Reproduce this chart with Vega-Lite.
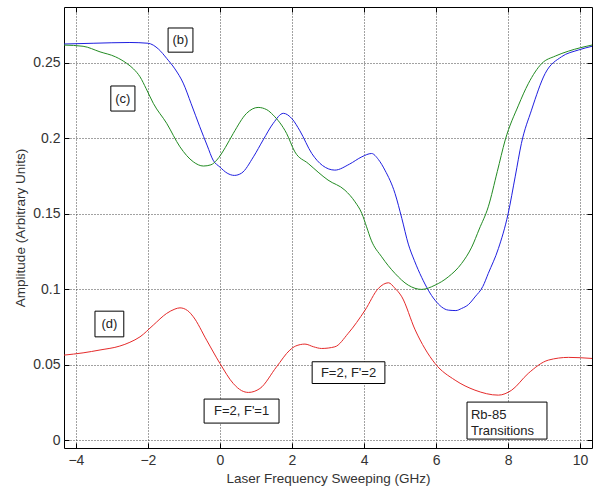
{
  "$schema": "https://vega.github.io/schema/vega-lite/v6.json",
  "width": 528,
  "height": 441,
  "autosize": {"type": "none"},
  "padding": {"left": 64, "top": 7, "right": 3, "bottom": 39},
  "background": "white",
  "view": {"stroke": "#000", "strokeWidth": 1},
  "config": {
    "font": "Liberation Sans",
    "axis": {
      "labelFont": "Liberation Sans",
      "titleFont": "Liberation Sans",
      "labelFontSize": 14,
      "titleFontSize": 13.5,
      "titleFontWeight": "normal",
      "labelColor": "#333",
      "titleColor": "#333",
      "domain": false,
      "tickColor": "#000",
      "tickSize": -5,
      "grid": true,
      "gridColor": "#444",
      "gridDash": [1, 2],
      "gridOpacity": 1,
      "gridWidth": 1
    }
  },
  "resolve": {"axis": {"x": "independent", "y": "independent"}},
  "datasets": {
    "curves": [
      {"series": "b", "x": -4.33, "y": 0.2625}, {"series": "b", "x": -3.5, "y": 0.263}, {"series": "b", "x": -2.5, "y": 0.2635}, {"series": "b", "x": -2.0, "y": 0.263}, {"series": "b", "x": -1.7, "y": 0.259}, {"series": "b", "x": -1.48, "y": 0.253}, {"series": "b", "x": -1.25, "y": 0.246}, {"series": "b", "x": -1.02, "y": 0.2366}, {"series": "b", "x": -0.8, "y": 0.223}, {"series": "b", "x": -0.56, "y": 0.2077}, {"series": "b", "x": -0.35, "y": 0.195}, {"series": "b", "x": -0.19, "y": 0.1856}, {"series": "b", "x": 0.0, "y": 0.181}, {"series": "b", "x": 0.2, "y": 0.177}, {"series": "b", "x": 0.4, "y": 0.1755}, {"series": "b", "x": 0.6, "y": 0.177}, {"series": "b", "x": 0.93, "y": 0.1878}, {"series": "b", "x": 1.2, "y": 0.199}, {"series": "b", "x": 1.48, "y": 0.21}, {"series": "b", "x": 1.76, "y": 0.2166}, {"series": "b", "x": 2.0, "y": 0.213}, {"series": "b", "x": 2.22, "y": 0.205}, {"series": "b", "x": 2.55, "y": 0.19}, {"series": "b", "x": 2.85, "y": 0.182}, {"series": "b", "x": 3.19, "y": 0.179}, {"series": "b", "x": 3.6, "y": 0.183}, {"series": "b", "x": 3.94, "y": 0.1878}, {"series": "b", "x": 4.21, "y": 0.19}, {"series": "b", "x": 4.4, "y": 0.186}, {"series": "b", "x": 4.58, "y": 0.179}, {"series": "b", "x": 4.86, "y": 0.1636}, {"series": "b", "x": 5.05, "y": 0.147}, {"series": "b", "x": 5.23, "y": 0.13}, {"series": "b", "x": 5.4, "y": 0.119}, {"series": "b", "x": 5.6, "y": 0.108}, {"series": "b", "x": 5.97, "y": 0.0929}, {"series": "b", "x": 6.34, "y": 0.0863}, {"series": "b", "x": 6.55, "y": 0.086}, {"series": "b", "x": 6.71, "y": 0.0874}, {"series": "b", "x": 6.9, "y": 0.09}, {"series": "b", "x": 7.08, "y": 0.095}, {"series": "b", "x": 7.3, "y": 0.102}, {"series": "b", "x": 7.45, "y": 0.1106}, {"series": "b", "x": 7.73, "y": 0.127}, {"series": "b", "x": 8.0, "y": 0.15}, {"series": "b", "x": 8.2, "y": 0.175}, {"series": "b", "x": 8.37, "y": 0.1967}, {"series": "b", "x": 8.65, "y": 0.2187}, {"series": "b", "x": 9.03, "y": 0.243}, {"series": "b", "x": 9.48, "y": 0.254}, {"series": "b", "x": 9.95, "y": 0.2585}, {"series": "b", "x": 10.33, "y": 0.261},
      {"series": "c", "x": -4.33, "y": 0.2618}, {"series": "c", "x": -3.8, "y": 0.261}, {"series": "c", "x": -3.33, "y": 0.2573}, {"series": "c", "x": -2.9, "y": 0.254}, {"series": "c", "x": -2.59, "y": 0.2497}, {"series": "c", "x": -2.4, "y": 0.246}, {"series": "c", "x": -2.22, "y": 0.2408}, {"series": "c", "x": -2.05, "y": 0.233}, {"series": "c", "x": -1.85, "y": 0.2232}, {"series": "c", "x": -1.48, "y": 0.21}, {"series": "c", "x": -1.11, "y": 0.1944}, {"series": "c", "x": -0.74, "y": 0.1845}, {"series": "c", "x": -0.46, "y": 0.1817}, {"series": "c", "x": -0.25, "y": 0.1825}, {"series": "c", "x": -0.09, "y": 0.1856}, {"series": "c", "x": 0.15, "y": 0.194}, {"series": "c", "x": 0.37, "y": 0.2033}, {"series": "c", "x": 0.74, "y": 0.2166}, {"series": "c", "x": 1.06, "y": 0.2205}, {"series": "c", "x": 1.3, "y": 0.219}, {"series": "c", "x": 1.48, "y": 0.2154}, {"series": "c", "x": 1.85, "y": 0.2033}, {"series": "c", "x": 2.08, "y": 0.1911}, {"series": "c", "x": 2.45, "y": 0.1834}, {"series": "c", "x": 3.0, "y": 0.1724}, {"series": "c", "x": 3.47, "y": 0.1657}, {"series": "c", "x": 3.75, "y": 0.158}, {"series": "c", "x": 3.94, "y": 0.1503}, {"series": "c", "x": 4.07, "y": 0.1415}, {"series": "c", "x": 4.2, "y": 0.1326}, {"series": "c", "x": 4.49, "y": 0.1216}, {"series": "c", "x": 4.86, "y": 0.1106}, {"series": "c", "x": 5.23, "y": 0.1028}, {"series": "c", "x": 5.6, "y": 0.1}, {"series": "c", "x": 5.97, "y": 0.1028}, {"series": "c", "x": 6.34, "y": 0.1083}, {"series": "c", "x": 6.71, "y": 0.1172}, {"series": "c", "x": 6.99, "y": 0.128}, {"series": "c", "x": 7.2, "y": 0.14}, {"series": "c", "x": 7.45, "y": 0.1547}, {"series": "c", "x": 7.7, "y": 0.178}, {"series": "c", "x": 7.92, "y": 0.1989}, {"series": "c", "x": 8.29, "y": 0.222}, {"series": "c", "x": 8.56, "y": 0.2362}, {"series": "c", "x": 8.94, "y": 0.2497}, {"series": "c", "x": 9.31, "y": 0.2545}, {"series": "c", "x": 9.68, "y": 0.2578}, {"series": "c", "x": 10.33, "y": 0.2618},
      {"series": "d", "x": -4.33, "y": 0.0565}, {"series": "d", "x": -3.8, "y": 0.058}, {"series": "d", "x": -3.33, "y": 0.0599}, {"series": "d", "x": -2.78, "y": 0.0625}, {"series": "d", "x": -2.5, "y": 0.065}, {"series": "d", "x": -2.22, "y": 0.0686}, {"series": "d", "x": -1.85, "y": 0.0764}, {"series": "d", "x": -1.48, "y": 0.0841}, {"series": "d", "x": -1.25, "y": 0.087}, {"series": "d", "x": -1.11, "y": 0.0878}, {"series": "d", "x": -0.9, "y": 0.086}, {"series": "d", "x": -0.74, "y": 0.0819}, {"series": "d", "x": -0.37, "y": 0.0664}, {"series": "d", "x": 0.0, "y": 0.051}, {"series": "d", "x": 0.37, "y": 0.0377}, {"series": "d", "x": 0.6, "y": 0.033}, {"series": "d", "x": 0.79, "y": 0.0318}, {"series": "d", "x": 1.11, "y": 0.0344}, {"series": "d", "x": 1.57, "y": 0.0487}, {"series": "d", "x": 1.94, "y": 0.0598}, {"series": "d", "x": 2.1, "y": 0.0625}, {"series": "d", "x": 2.36, "y": 0.0638}, {"series": "d", "x": 2.6, "y": 0.062}, {"series": "d", "x": 2.82, "y": 0.0609}, {"series": "d", "x": 3.19, "y": 0.062}, {"series": "d", "x": 3.56, "y": 0.0709}, {"series": "d", "x": 4.03, "y": 0.0863}, {"series": "d", "x": 4.4, "y": 0.1007}, {"series": "d", "x": 4.68, "y": 0.1044}, {"series": "d", "x": 4.85, "y": 0.101}, {"series": "d", "x": 5.05, "y": 0.0951}, {"series": "d", "x": 5.42, "y": 0.0732}, {"series": "d", "x": 5.97, "y": 0.051}, {"series": "d", "x": 6.53, "y": 0.0399}, {"series": "d", "x": 7.08, "y": 0.0333}, {"series": "d", "x": 7.73, "y": 0.03}, {"series": "d", "x": 8.1, "y": 0.0333}, {"series": "d", "x": 8.56, "y": 0.0444}, {"series": "d", "x": 9.12, "y": 0.0532}, {"series": "d", "x": 9.68, "y": 0.055}, {"series": "d", "x": 10.33, "y": 0.0543}
    ],
    "notes": [
      {"label": "(b)", "x0": -1.44, "x1": -0.75, "y0": 0.2571, "y1": 0.2731, "tx": -1.1, "ty": 0.2651, "align": "center"},
      {"label": "(c)", "x0": -3.03, "x1": -2.36, "y0": 0.2181, "y1": 0.2347, "tx": -2.7, "ty": 0.2264, "align": "center"},
      {"label": "(d)", "x0": -3.47, "x1": -2.67, "y0": 0.0686, "y1": 0.0856, "tx": -3.07, "ty": 0.0771, "align": "center"},
      {"label": "F=2, F'=1", "x0": -0.44, "x1": 1.64, "y0": 0.0115, "y1": 0.0274, "tx": 0.6, "ty": 0.0195, "align": "center"},
      {"label": "F=2, F'=2", "x0": 2.56, "x1": 4.58, "y0": 0.0377, "y1": 0.0521, "tx": 3.57, "ty": 0.0449, "align": "center"},
      {"label": "Rb-85\nTransitions", "x0": 6.86, "x1": 9.08, "y0": 0.0009, "y1": 0.0254, "tx": 6.97, "ty": 0.0168, "align": "left"}
    ]
  },
  "layer": [
    {
      "data": {"name": "curves"},
      "mark": {"type": "line", "strokeWidth": 1, "interpolate": "monotone"},
      "encoding": {
        "x": {"field": "x", "type": "quantitative", "scale": {"domain": [-4.33, 10.33], "nice": false, "zero": false}, "axis": {"title": "Laser Frequency Sweeping (GHz)", "values": [-4, -2, 0, 2, 4, 6, 8, 10], "labelPadding": 10, "titlePadding": 4}},
        "y": {"field": "y", "type": "quantitative", "scale": {"domain": [-0.005, 0.287], "nice": false, "zero": false}, "axis": {"title": "Amplitude (Arbitrary Units)", "values": [0, 0.05, 0.1, 0.15, 0.2, 0.25], "labelExpr": "datum.value == 0 ? '0' : format(datum.value, '~g')", "labelPadding": 9, "titlePadding": 5}},
        "color": {"field": "series", "type": "nominal", "scale": {"domain": ["b", "c", "d"], "range": ["#1f1fe0", "#228b22", "#e52a2a"]}, "legend": null},
        "detail": {"field": "series"}
      }
    },
    {
      "data": {"name": "curves"},
      "mark": {"type": "point", "opacity": 0},
      "encoding": {
        "x": {"field": "x", "type": "quantitative", "axis": {"orient": "top", "values": [-4, -2, 0, 2, 4, 6, 8, 10], "labels": false, "grid": false, "title": null}},
        "y": {"field": "y", "type": "quantitative", "axis": {"orient": "right", "values": [0, 0.05, 0.1, 0.15, 0.2, 0.25], "labels": false, "grid": false, "title": null}}
      }
    },
    {
      "data": {"name": "notes"},
      "mark": {"type": "rect", "fill": "white", "stroke": "#000", "strokeWidth": 1},
      "encoding": {
        "x": {"field": "x0", "type": "quantitative", "axis": null},
        "x2": {"field": "x1"},
        "y": {"field": "y0", "type": "quantitative", "axis": null},
        "y2": {"field": "y1"}
      }
    },
    {
      "data": {"name": "notes"},
      "transform": [{"filter": "datum.align == 'center'"}],
      "mark": {"type": "text", "font": "Liberation Sans", "fontSize": 13, "color": "#222", "align": "center", "baseline": "middle"},
      "encoding": {
        "x": {"field": "tx", "type": "quantitative", "axis": null},
        "y": {"field": "ty", "type": "quantitative", "axis": null},
        "text": {"field": "label"}
      }
    },
    {
      "data": {"name": "notes"},
      "transform": [{"filter": "datum.align == 'left'"}],
      "mark": {"type": "text", "font": "Liberation Sans", "fontSize": 13, "color": "#222", "align": "left", "baseline": "middle", "lineBreak": "\n", "lineHeight": 16},
      "encoding": {
        "x": {"field": "tx", "type": "quantitative", "axis": null},
        "y": {"field": "ty", "type": "quantitative", "axis": null},
        "text": {"field": "label"}
      }
    }
  ]
}
